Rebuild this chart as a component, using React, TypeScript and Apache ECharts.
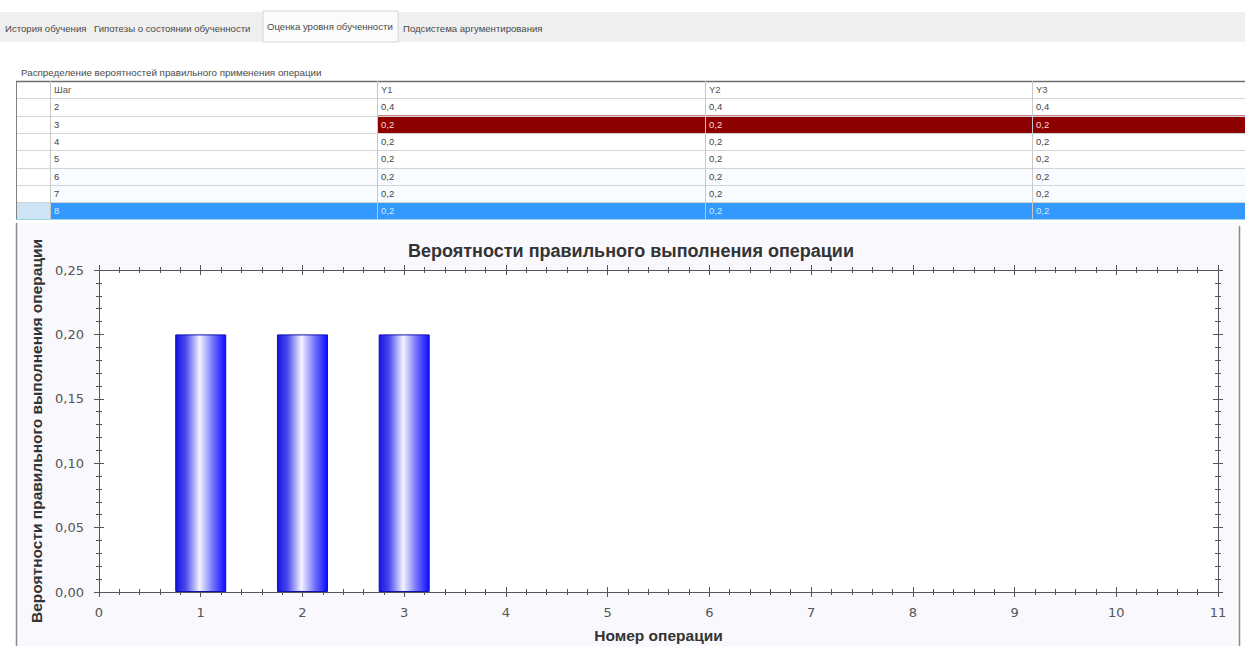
import React, { useEffect, useRef } from "react";
import * as echarts from "echarts";

// ---- data ----
const tabs = [
  "История обучения",
  "Гипотезы о состоянии обученности",
  "Оценка уровня обученности",
  "Подсистема аргументирования",
];
const activeTab = 2;
const tableCaption = "Распределение вероятностей правильного применения операции";
const tableHeaders = ["Шаг", "Y1", "Y2", "Y3"];
const steps = ["2", "3", "4", "5", "6", "7", "8"];
const y1Values = ["0,4", "0,2", "0,2", "0,2", "0,2", "0,2", "0,2"];
const y2Values = ["0,4", "0,2", "0,2", "0,2", "0,2", "0,2", "0,2"];
const y3Values = ["0,4", "0,2", "0,2", "0,2", "0,2", "0,2", "0,2"];
const highlightedRow = 1; // red row (step 3)
const selectedRow = 6; // blue row (step 8)

const chartTitle = "Вероятности правильного выполнения операции";
const xAxisTitle = "Номер операции";
const yAxisTitle = "Вероятности правильного выполнения операции";
const operations = [1, 2, 3];
const probabilities = [0.2, 0.2, 0.2];
const xMin = 0;
const xMax = 11;
const yMin = 0;
const yMax = 0.25;
const yStep = 0.05;

// ---- layout (styles only) ----
const W = 1245;
const H = 646;
const tabX = [5, 94, 267, 403];
const tabW = [82, 165, 128, 152];
const colX = [16, 50, 377, 705, 1032, W];
const tableTop = 81;
const rowH = 17.3;
const FONT = "'Liberation Sans', Arial, sans-serif";

function buildGraphics() {
  const g: any[] = [];
  // tab strip
  g.push({ type: "rect", shape: { x: 0, y: 12, width: W, height: 30 }, style: { fill: "#efefef" }, z: 0 });
  tabs.forEach((t, i) => {
    if (i === activeTab) {
      g.push({
        type: "rect",
        shape: { x: tabX[i] - 4, y: 11, width: tabW[i] + 7, height: 31 },
        style: { fill: "#fbfbfb", stroke: "#d6d6d6", lineWidth: 1 },
        z: 1,
      });
    }
    g.push({
      type: "text",
      x: tabX[i],
      y: i === activeTab ? 26 : 28,
      style: { text: t, fontSize: 9.6, fontFamily: FONT, fill: "#4a4a4a", verticalAlign: "middle" },
      z: 2,
    });
  });
  // caption
  g.push({
    type: "text",
    x: 21,
    y: 72,
    style: { text: tableCaption, fontSize: 9.8, fontFamily: FONT, fill: "#4a4a4a", verticalAlign: "middle" },
    z: 2,
  });
  const nRows = steps.length + 1;
  const tableBottom = tableTop + nRows * rowH;
  // table bg
  g.push({ type: "rect", shape: { x: colX[0], y: tableTop, width: W - colX[0], height: nRows * rowH }, style: { fill: "#ffffff" }, z: 1 });
  // special rows
  steps.forEach((s, r) => {
    const top = tableTop + (r + 1) * rowH;
    if (r === highlightedRow) {
      g.push({ type: "rect", shape: { x: colX[2], y: top, width: W - colX[2], height: rowH }, style: { fill: "#8e0000" }, z: 2 });
    }
    if (r === selectedRow) {
      g.push({ type: "rect", shape: { x: colX[1], y: top, width: W - colX[1], height: rowH }, style: { fill: "#3399ff" }, z: 2 });
      g.push({ type: "rect", shape: { x: colX[0], y: top, width: colX[1] - colX[0], height: rowH }, style: { fill: "#cde4f7" }, z: 2 });
    }
    if (r === 4 || r === 5) {
      g.push({ type: "rect", shape: { x: colX[1], y: top, width: W - colX[1], height: rowH }, style: { fill: "#f8fbff" }, z: 1.5 });
    }
  });
  // horizontal lines
  for (let i = 0; i <= nRows; i++) {
    const y = Math.round(tableTop + i * rowH) + 0.5;
    g.push({
      type: "line",
      shape: { x1: colX[0], y1: y, x2: W, y2: y },
      style: { stroke: i === 0 ? "#6f6f6f" : i === nRows ? "#9fd3e6" : "#d4d4d4", lineWidth: i === 0 ? 1.5 : 1 },
      z: 3,
    });
  }
  // vertical lines
  for (let c = 0; c < colX.length - 1; c++) {
    const x = colX[c] + 0.5;
    g.push({
      type: "line",
      shape: { x1: x, y1: tableTop, x2: x, y2: tableBottom },
      style: { stroke: c === 0 ? "#808080" : "#c8c8c8", lineWidth: 1 },
      z: 3,
    });
  }
  // header texts
  tableHeaders.forEach((h, c) => {
    g.push({
      type: "text",
      x: colX[c + 1] + 4,
      y: tableTop + rowH / 2,
      style: { text: h, fontSize: 9.5, fontFamily: FONT, fill: "#555", verticalAlign: "middle" },
      z: 4,
    });
  });
  // cell texts
  const cols = [steps, y1Values, y2Values, y3Values];
  steps.forEach((_, r) => {
    const cy = tableTop + (r + 1) * rowH + rowH / 2;
    cols.forEach((col, c) => {
      let fill = "#444";
      if (r === selectedRow) fill = "#d6ebff";
      else if (r === highlightedRow && c > 0) fill = "#ffd6d6";
      g.push({
        type: "text",
        x: colX[c + 1] + 4,
        y: cy,
        style: { text: col[r], fontSize: 9.5, fontFamily: FONT, fill, verticalAlign: "middle" },
        z: 4,
      });
    });
  });
  // chart panel
  g.push({
    type: "rect",
    shape: { x: 16, y: 223, width: 1224, height: H - 223 },
    style: { fill: "#f9f8fc" },
    z: -10,
  });
  g.push({ type: "line", shape: { x1: 16.5, y1: 223, x2: 16.5, y2: H }, style: { stroke: "#8a8a8a", lineWidth: 1.5 }, z: 3 });
  g.push({ type: "line", shape: { x1: 1239.5, y1: 226, x2: 1239.5, y2: H }, style: { stroke: "#8a8a8a", lineWidth: 1.5 }, z: 3 });
  return g;
}

const tickColor = "#555";
const fmtY = (v: number) => v.toFixed(2).replace(".", ",");

function xAxisDef(position: "bottom" | "top", inside: boolean, labels: boolean) {
  return {
    type: "value",
    position,
    min: xMin,
    max: xMax,
    interval: 1,
    axisLine: { show: true, onZero: false, lineStyle: { color: tickColor, width: 1 } },
    axisTick: { show: true, inside, length: 5, lineStyle: { color: tickColor } },
    minorTick: { show: true, splitNumber: 5, length: 3, lineStyle: { color: tickColor } },
    axisLabel: {
      show: labels,
      margin: 14,
      fontSize: 13,
      fontFamily: "'DejaVu Sans', sans-serif",
      color: "#555",
    },
    splitLine: { show: false },
    minorSplitLine: { show: false },
    ...(labels
      ? {
          name: xAxisTitle,
          nameLocation: "middle",
          nameGap: 35,
          nameTextStyle: { fontSize: 15.5, fontWeight: "bold", fontFamily: FONT, color: "#333" },
        }
      : {}),
  };
}

function yAxisDef(position: "left" | "right", inside: boolean, labels: boolean) {
  return {
    type: "value",
    position,
    min: yMin,
    max: yMax,
    interval: yStep,
    axisLine: { show: true, onZero: false, lineStyle: { color: tickColor, width: 1 } },
    axisTick: { show: true, inside, length: 5, lineStyle: { color: tickColor } },
    minorTick: { show: true, splitNumber: 5, length: 3, lineStyle: { color: tickColor } },
    axisLabel: {
      show: labels,
      margin: 15,
      fontSize: 13,
      fontFamily: "'DejaVu Sans', sans-serif",
      color: "#555",
      formatter: (v: number) => fmtY(v),
    },
    splitLine: { show: false },
    minorSplitLine: { show: false },
    ...(labels
      ? {
          name: yAxisTitle,
          nameLocation: "middle",
          nameGap: 54,
          nameTextStyle: { fontSize: 15.5, fontWeight: "bold", fontFamily: FONT, color: "#333" },
        }
      : {}),
  };
}

export default function App() {
  const ref = useRef<HTMLDivElement>(null);
  useEffect(() => {
    if (!ref.current) return;
    const chart = echarts.init(ref.current, null, { renderer: "svg" });
    chart.setOption({
      animation: false,
      backgroundColor: "#ffffff",
      title: {
        text: chartTitle,
        left: 626,
        top: 237,
        textAlign: "center",
        textStyle: { fontSize: 18, fontWeight: "bold", fontFamily: FONT, color: "#333" },
      },
      grid: {
        left: 99,
        right: W - 1218,
        top: 270,
        bottom: H - 592,
        show: true,
        backgroundColor: "#ffffff",
        borderWidth: 0,
      },
      xAxis: [
        xAxisDef("bottom", false, true),
        xAxisDef("bottom", true, false),
        xAxisDef("top", true, false),
        xAxisDef("top", false, false),
      ],
      yAxis: [
        yAxisDef("left", false, true),
        yAxisDef("left", true, false),
        yAxisDef("right", true, false),
        yAxisDef("right", false, false),
      ],
      graphic: buildGraphics(),
      series: [
        {
          type: "bar",
          xAxisIndex: 0,
          yAxisIndex: 0,
          barWidth: 51,
          data: operations.map((o, i) => [o, probabilities[i]]),
          itemStyle: {
            color: new echarts.graphic.LinearGradient(0, 0, 1, 0, [
              { offset: 0, color: "#1414e0" },
              { offset: 0.2, color: "#4a4aee" },
              { offset: 0.48, color: "#f4f4ff" },
              { offset: 0.75, color: "#7070fa" },
              { offset: 1, color: "#0c0cff" },
            ]),
            borderColor: "#1010b0",
            borderWidth: 1,
          },
        },
      ],
    });
    return () => chart.dispose();
  }, []);
  return (
    <div
      ref={ref}
      style={{ position: "absolute", left: 0, top: 0, width: W, height: H }}
    />
  );
}
